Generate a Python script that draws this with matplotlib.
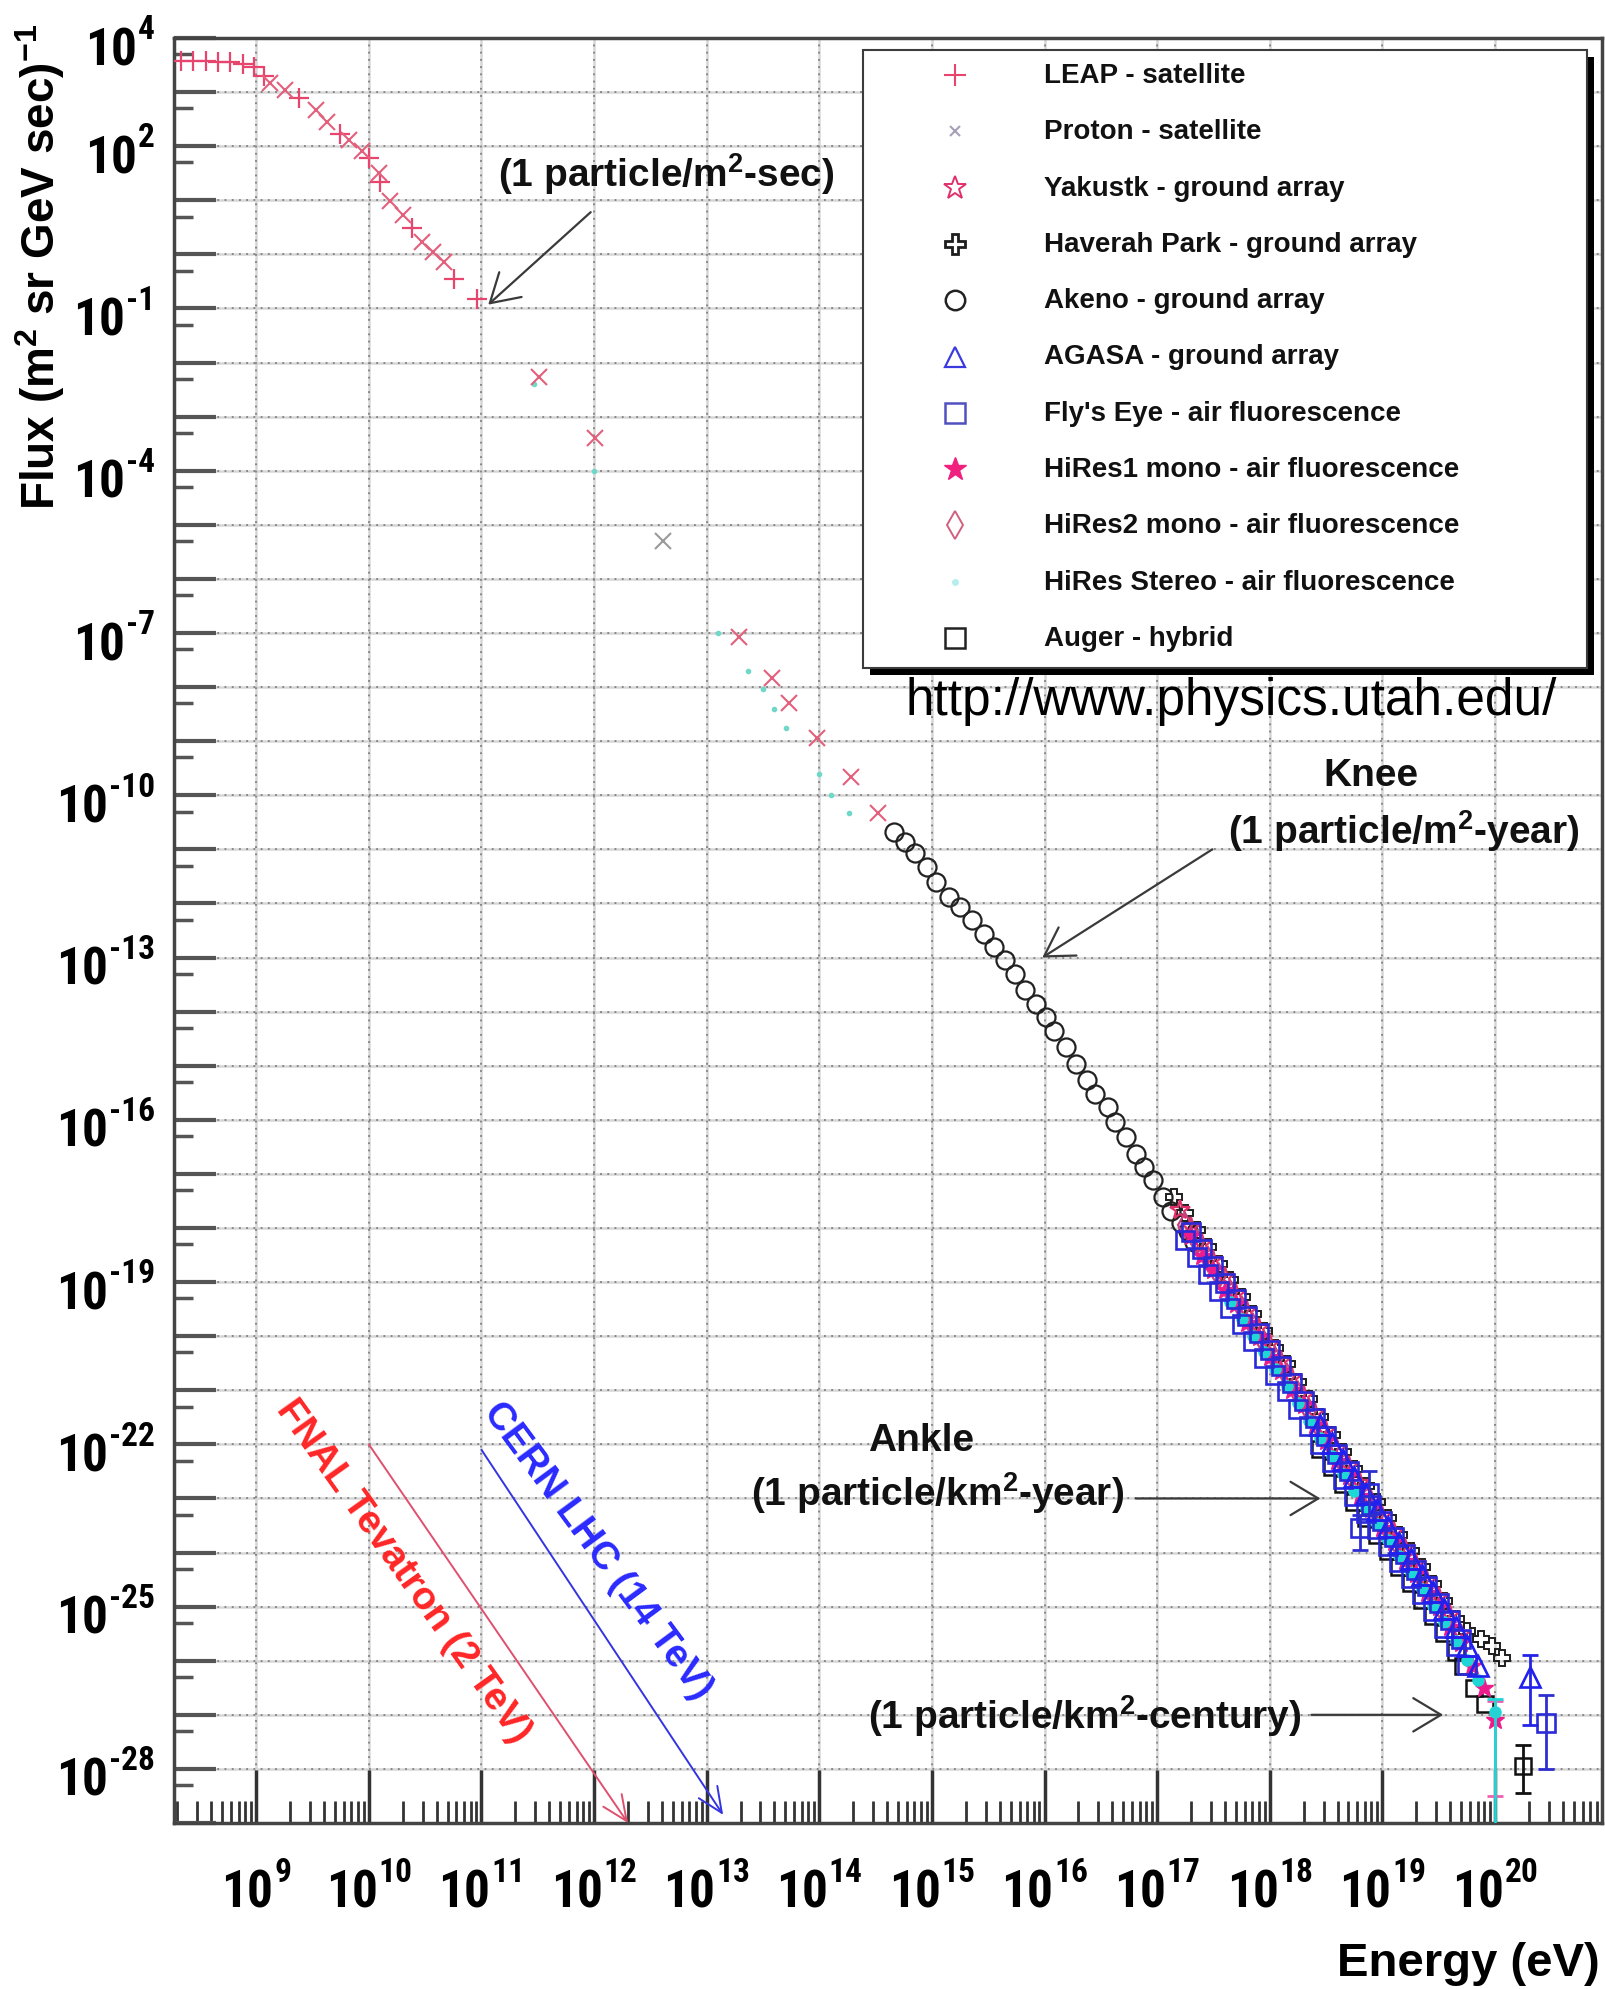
import numpy as np
import matplotlib
matplotlib.use("Agg")
import matplotlib.pyplot as plt
from matplotlib import font_manager
from matplotlib.font_manager import FontProperties
from matplotlib.lines import Line2D
from matplotlib.patches import Rectangle
from matplotlib.textpath import text_to_path
from matplotlib.transforms import offset_copy
from matplotlib.ticker import FixedLocator, NullFormatter

# ================= DATA =================
# every value is log10: energy in eV, flux in (m^2 sr GeV sec)^-1

leap_e = [8.33, 8.44, 8.55, 8.66, 8.77, 8.88, 8.98, 9.07, 9.38, 9.74, 10.0, 10.1, 10.38, 10.76, 10.96]
leap_f = [3.58, 3.58, 3.57, 3.56, 3.55, 3.52, 3.46, 3.30, 2.89, 2.23, 1.79, 1.33, 0.48, -0.45, -0.83]

proton_e = [9.12, 9.26, 9.53, 9.63, 9.82, 9.94, 10.09, 10.19, 10.30, 10.47, 10.57, 10.67,
            11.51, 12.01, 13.29, 13.58, 13.73, 13.98, 14.28, 14.52]
proton_f = [3.17, 3.04, 2.67, 2.45, 2.11, 1.92, 1.51, 0.98, 0.73, 0.23, 0.05, -0.14,
            -2.27, -3.40, -7.07, -7.83, -8.30, -8.95, -9.67, -10.33]
proton_grey_e = [12.61]
proton_grey_f = [-5.30]

direct_e = [11.47, 12.0, 13.1, 13.37, 13.5, 13.6, 13.7, 14.0, 14.1, 14.26]
direct_f = [-2.40, -4.0, -7.0, -7.70, -8.03, -8.40, -8.75, -9.6, -10.0, -10.33]

akeno_e = [14.66, 14.76, 14.85, 14.96, 15.04, 15.15, 15.25, 15.36, 15.46, 15.55, 15.65,
           15.74, 15.83, 15.92, 16.01, 16.08, 16.19, 16.28, 16.38, 16.45, 16.56, 16.63,
           16.72, 16.81, 16.88, 16.96, 17.05, 17.12, 17.21, 17.27, 17.33]
akeno_f = [-10.67, -10.86, -11.07, -11.32, -11.60, -11.88, -12.06, -12.31, -12.56, -12.80, -13.05,
           -13.30, -13.60, -13.85, -14.10, -14.35, -14.65, -14.96, -15.27, -15.52, -15.77, -16.04,
           -16.32, -16.63, -16.88, -17.12, -17.43, -17.68, -17.90, -18.05, -18.25]

yakutsk_e = [17.2, 17.3, 17.4, 17.5, 17.6, 17.7, 17.8, 17.9, 18.0, 18.1, 18.2, 18.3, 18.4,
             18.5, 18.6, 18.7, 18.8, 18.9, 19.0, 19.1, 19.2, 19.3, 19.4, 19.5, 19.6, 19.7]
yakutsk_f = [-17.67, -17.98, -18.29, -18.60, -18.91, -19.22, -19.53, -19.84, -20.15, -20.46, -20.77,
             -21.10, -21.42, -21.75, -22.08, -22.40, -22.72, -23.02, -23.32, -23.62, -23.92, -24.22,
             -24.52, -24.83, -25.15, -25.50]

haverah_e = [17.15, 17.25, 17.35, 17.45, 17.55, 17.65, 17.75, 17.85, 17.95, 18.05, 18.15, 18.25,
             18.35, 18.45, 18.55, 18.65, 18.75, 18.85, 18.95, 19.05, 19.15, 19.25, 19.35, 19.45,
             19.55, 19.65, 19.75, 19.88, 19.97, 20.06]
haverah_f = [-17.42, -17.73, -18.04, -18.35, -18.66, -18.97, -19.28, -19.59, -19.90, -20.21, -20.52,
             -20.84, -21.16, -21.49, -21.82, -22.14, -22.46, -22.77, -23.07, -23.37, -23.67, -23.97,
             -24.27, -24.58, -24.89, -25.23, -25.45, -25.60, -25.72, -25.95]

agasa_e = [18.45, 18.55, 18.65, 18.75, 18.85, 18.95, 19.05, 19.15, 19.25, 19.35, 19.45, 19.55,
           19.65, 19.75, 19.85, 20.31]
agasa_f = [-21.64, -21.97, -22.29, -22.61, -22.92, -23.22, -23.52, -23.82, -24.12, -24.42, -24.73,
           -25.04, -25.38, -25.73, -26.10, -26.30]
agasa_err_e = [20.31]
agasa_err_lo = [-27.19]
agasa_err_hi = [-25.90]

flyseye_e = [17.25, 17.30, 17.35, 17.40, 17.45, 17.50, 17.55, 17.60, 17.65, 17.70, 17.75, 17.80,
             17.85, 17.90, 17.95, 18.00, 18.05, 18.10, 18.15, 18.20, 18.25, 18.30, 18.35, 18.40,
             18.45, 18.50, 18.55, 18.60, 18.65, 18.70, 18.75, 18.80, 18.85, 18.88, 18.90, 18.95,
             19.00, 19.05, 19.10, 19.15, 19.20, 19.25, 19.30, 19.35, 19.40, 19.45, 19.50, 19.55,
             19.60, 19.65, 19.70, 19.75, 20.45]
flyseye_f = [-18.23, -18.08, -18.54, -18.39, -18.85, -18.70, -19.16, -19.01, -19.47, -19.32, -19.78,
             -19.63, -20.09, -19.94, -20.40, -20.25, -20.71, -20.56, -21.02, -20.87, -21.34, -21.20,
             -21.66, -21.52, -21.99, -21.85, -22.32, -22.18, -22.64, -22.50, -22.96, -23.55, -23.27,
             -22.90, -23.12, -23.57, -23.42, -23.87, -23.72, -24.17, -24.02, -24.47, -24.32, -24.77,
             -24.62, -25.08, -24.93, -25.39, -25.25, -25.73, -25.60, -26.08, -27.15]
flyseye_err_e = [18.8, 18.88, 20.45]
flyseye_err_lo = [-23.95, -23.30, -28.00]
flyseye_err_hi = [-23.30, -22.50, -26.63]

hires1_e = [17.3, 17.4, 17.5, 17.6, 17.7, 17.8, 17.9, 18.0, 18.1, 18.2, 18.3, 18.4, 18.5, 18.6,
            18.7, 18.8, 18.9, 19.0, 19.1, 19.2, 19.3, 19.4, 19.5, 19.6, 19.7, 19.8, 19.9, 20.0]
hires1_f = [-18.15, -18.52, -18.78, -19.14, -19.40, -19.76, -20.02, -20.38, -20.64, -21.00, -21.28,
            -21.65, -21.93, -22.31, -22.58, -22.95, -23.20, -23.55, -23.80, -24.15, -24.40, -24.75,
            -25.00, -25.38, -25.68, -26.10, -26.50, -27.10]
hires1_err_e = [20.0]
hires1_err_lo = [-28.50]
hires1_err_hi = [-26.75]

hires2_e = [17.25, 17.35, 17.45, 17.55, 17.65, 17.75, 17.85, 17.95, 18.05, 18.15, 18.25, 18.35,
            18.45, 18.55, 18.65, 18.75, 18.85, 18.95, 19.05, 19.15, 19.25, 19.35, 19.45, 19.55]
hires2_f = [-17.95, -18.26, -18.57, -18.88, -19.19, -19.50, -19.81, -20.12, -20.43, -20.74, -21.06,
            -21.38, -21.71, -22.04, -22.36, -22.68, -22.99, -23.29, -23.59, -23.89, -24.19, -24.49,
            -24.80, -25.11]

stereo_e = [17.65, 17.75, 17.85, 17.95, 18.05, 18.15, 18.25, 18.35, 18.45, 18.55, 18.65, 18.75,
            18.85, 18.95, 19.05, 19.15, 19.25, 19.35, 19.45, 19.55, 19.65, 19.75, 19.85, 20.0]
stereo_f = [-19.37, -19.68, -19.99, -20.30, -20.61, -20.92, -21.24, -21.56, -21.89, -22.22, -22.54,
            -22.86, -23.17, -23.47, -23.77, -24.07, -24.37, -24.67, -24.98, -25.29, -25.63, -25.98,
            -26.35, -26.95]
stereo_err_e = [20.0]
stereo_err_lo = [-31.0]
stereo_err_hi = [-26.70]

auger_e = [18.45, 18.55, 18.65, 18.75, 18.85, 18.95, 19.05, 19.15, 19.25, 19.35, 19.45, 19.55,
           19.65, 19.72, 19.81, 19.91, 20.25]
auger_f = [-22.09, -22.42, -22.74, -23.06, -23.37, -23.67, -23.97, -24.27, -24.57, -24.87, -25.18,
           -25.49, -25.83, -26.10, -26.50, -26.80, -27.94]
auger_err_e = [20.25]
auger_err_lo = [-28.44]
auger_err_hi = [-27.56]

x_tick_exps = list(range(9, 21))
y_tick_exps = [4, 2, -1, -4, -7, -10, -13, -16, -19, -22, -25, -28]

tevatron_energy = 2e12
lhc_energy = 1.4e13

# ================= FONTS =================

def _narrow_bold_file():
    order = ["Liberation Sans Narrow", "Roboto Condensed", "Open Sans Condensed",
             "Noto Sans", "Open Sans", "Roboto", "DejaVu Sans"]
    found = {}
    for f in font_manager.fontManager.ttflist:
        w = f.weight if isinstance(f.weight, (int, float)) else font_manager.weight_dict.get(f.weight, 400)
        low = f.fname.lower()
        if "extra" in low or "ultra" in low or "semi" in low:
            continue
        narrow = ("Narrow" in f.name or "Condensed" in f.name
                  or f.stretch in ("condensed", "semi-condensed"))
        if narrow and f.style == "normal" and w == 700:
            found.setdefault(f.name, f.fname)
    for name in order:
        if name in found:
            return found[name]
    return None


plt.rcParams["font.family"] = ["Liberation Sans", "DejaVu Sans"]
plt.rcParams["mathtext.fontset"] = "custom"
for key in ("rm", "bf", "it", "sf"):
    plt.rcParams["mathtext." + key] = "Liberation Sans:bold"

narrow_file = _narrow_bold_file()
if narrow_file:
    BASE_FP = FontProperties(fname=narrow_file, size=37)
    EXP_FP = FontProperties(fname=narrow_file, size=24)
else:
    BASE_FP = FontProperties(family="Liberation Sans", weight="bold", size=33)
    EXP_FP = FontProperties(family="Liberation Sans", weight="bold", size=21)


def p10(v):
    return np.power(10.0, np.asarray(v, dtype=float))


def _width_pt(s, prop):
    return text_to_path.get_text_width_height_descent(s, prop, ismath=False)[0]


# ================= FIGURE =================
W, H = 1606, 1990
fig = plt.figure(figsize=(W / 100, H / 100), dpi=100)
ax = fig.add_axes([174 / W, 1 - 1824 / H, (1602 - 174) / W, (1824 - 39) / H])
ax.set_xscale("log")
ax.set_yscale("log")
ax.set_xlim(10 ** 8.27, 10 ** 20.95)
ax.set_ylim(1e-29, 1e4)

# grid: faint solid line under a darker dotted one, one per decade
for k in range(9, 21):
    ax.axvline(10.0 ** k, color="#d6d6d6", lw=1.8, zorder=0)
    ax.axvline(10.0 ** k, color="#7f7f7f", lw=1.3, ls=(0, (1, 3)), zorder=0.5)
for k in range(-28, 4):
    ax.axhline(10.0 ** k, color="#d6d6d6", lw=1.8, zorder=0)
    ax.axhline(10.0 ** k, color="#7f7f7f", lw=1.3, ls=(0, (1, 3)), zorder=0.5)

for side in ax.spines.values():
    side.set_color("#444444")
    side.set_linewidth(2.5)

ax.xaxis.set_major_locator(FixedLocator([10.0 ** k for k in x_tick_exps]))
ax.xaxis.set_minor_locator(FixedLocator([m * 10.0 ** k for k in range(8, 21) for m in range(2, 10)]))
ax.yaxis.set_major_locator(FixedLocator([10.0 ** k for k in range(-29, 5)]))
ax.yaxis.set_minor_locator(FixedLocator([5 * 10.0 ** k for k in range(-29, 4)]))
for axis in (ax.xaxis, ax.yaxis):
    axis.set_minor_formatter(NullFormatter())

ax.tick_params(axis="x", which="major", direction="in", length=38, width=2.5, color="#333333",
               top=False, labelbottom=False)
ax.tick_params(axis="x", which="minor", direction="in", length=16, width=2, color="#333333", top=False)
ax.tick_params(axis="y", which="major", direction="in", length=30, width=3, color="#555555",
               right=False, labelleft=False)
ax.tick_params(axis="y", which="minor", direction="in", length=14, width=2.5, color="#555555", right=False)

# decade labels drawn as "10" plus a raised exponent
gap = 0.5
base_w = _width_pt("10", BASE_FP)
cap = 0.716 * BASE_FP.get_size_in_points()


def decade_label(x, y, k, trans, x0, base_dy):
    exp_s = str(k)
    total = base_w + gap + _width_pt(exp_s, EXP_FP)
    left = x0(total)
    ax.text(x, y, "10", fontproperties=BASE_FP, ha="left", va="baseline", clip_on=False,
            transform=offset_copy(trans, fig=fig, x=left, y=base_dy, units="points"))
    ax.text(x, y, exp_s, fontproperties=EXP_FP, ha="left", va="baseline", clip_on=False,
            transform=offset_copy(trans, fig=fig, x=left + base_w + gap, y=base_dy + 0.7 * cap,
                                  units="points"))


for k in x_tick_exps:
    decade_label(10.0 ** k, 0, k, ax.get_xaxis_transform(), lambda t: -t / 2, -60)
for k in y_tick_exps:
    decade_label(0, 10.0 ** k, k, ax.get_yaxis_transform(), lambda t: -14 - t, -cap / 2 - 5.5)

# ================= SERIES =================
open_kw = dict(ls="none", mfc="none")

ax.plot(p10(direct_e), p10(direct_f), ls="none", marker="o", ms=3, color="#6fd8c8", zorder=2)
ax.plot(p10(leap_e), p10(leap_f), ls="none", marker="+", ms=15, mew=1.6, color="#e8456e", zorder=3)
ax.plot(p10(proton_e), p10(proton_f), ls="none", marker="x", ms=11, mew=1.5, color="#e3607c", zorder=3)
ax.plot(p10(proton_grey_e), p10(proton_grey_f), ls="none", marker="x", ms=11, mew=1.5, color="#9a9a9a", zorder=3)
ax.plot(p10(akeno_e), p10(akeno_f), marker="o", ms=13, mew=1.6, color="#222222", zorder=3, **open_kw)
ax.plot(p10(haverah_e), p10(haverah_f), marker="P", ms=12, mew=1.4, color="#1e1e1e", zorder=3, **open_kw)
ax.plot(p10(yakutsk_e), p10(yakutsk_f), marker="*", ms=15, mew=1.6, color="#e0306a", zorder=3, **open_kw)
ax.plot(p10(hires2_e), p10(hires2_f), marker="d", ms=12, mew=1.6, color="#c8407e", zorder=3, **open_kw)
ax.plot(p10(auger_e), p10(auger_f), marker="s", ms=12, mew=1.8, color="#111111", zorder=3, **open_kw)
ax.plot(p10(hires1_e), p10(hires1_f), ls="none", marker="*", ms=14, color="#ec1c8c", zorder=3)
ax.plot(p10(stereo_e), p10(stereo_f), ls="none", marker="o", ms=8, color="#1fd6d6", zorder=3)
ax.plot(p10(flyseye_e), p10(flyseye_f), marker="s", ms=13, mew=1.9, color="#2a2ad8", zorder=3, **open_kw)
ax.plot(p10(agasa_e), p10(agasa_f), marker="^", ms=14, mew=1.9, color="#2020f0", zorder=3, **open_kw)


def bars(e, lo, hi, color):
    x = p10(e)
    yl, yh = p10(lo), p10(hi)
    mid = np.sqrt(yl * yh)
    ax.errorbar(x, mid, yerr=[mid - yl, yh - mid], fmt="none", ecolor=color, elinewidth=2,
                capsize=6, capthick=2, zorder=3)


bars(agasa_err_e, agasa_err_lo, agasa_err_hi, "#2424e6")
bars(flyseye_err_e, flyseye_err_lo, flyseye_err_hi, "#2e2ed0")
bars(hires1_err_e, hires1_err_lo, hires1_err_hi, "#f060b0")
bars(stereo_err_e, stereo_err_lo, stereo_err_hi, "#1fd6d6")
bars(auger_err_e, auger_err_lo, auger_err_hi, "#111111")

# ================= ANNOTATIONS =================
txt = dict(fontsize=28, fontweight="bold", color="#111111", ha="center", va="center")
arrow = dict(arrowstyle="->,head_length=1.0,head_width=0.6", color="#3a3a3a", lw=1.6,
             shrinkA=0, shrinkB=0, mutation_scale=20)

ax.text(10 ** 12.64, 10 ** 1.51, r"(1 particle/m$^{2}$-sec)", **txt)
ax.annotate("", xy=(10 ** 11.06, 10 ** -0.93), xytext=(10 ** 11.97, 10 ** 0.78), arrowprops=arrow)

ax.text(10 ** 18.90, 10 ** -9.62, "Knee", **txt)
ax.text(10 ** 19.19, 10 ** -10.65, r"(1 particle/m$^{2}$-year)", **txt)
ax.annotate("", xy=(10 ** 15.98, 10 ** -13.0), xytext=(10 ** 17.49, 10 ** -11.0), arrowprops=arrow)

ax.text(10 ** 14.90, 10 ** -21.92, "Ankle", **txt)
ax.text(10 ** 15.05, 10 ** -22.88, r"(1 particle/km$^{2}$-year)", **txt)
ax.annotate("", xy=(10 ** 18.45, 10 ** -23.0), xytext=(10 ** 16.81, 10 ** -23.0), arrowprops=arrow)

ax.text(10 ** 16.36, 10 ** -27.0, r"(1 particle/km$^{2}$-century)", **txt)
ax.annotate("", xy=(10 ** 19.54, 10 ** -27.0), xytext=(10 ** 18.37, 10 ** -27.0), arrowprops=arrow)

# collider reach
ax.annotate("", xy=(tevatron_energy, 1e-29), xytext=(1e10, 1e-22), annotation_clip=False,
            arrowprops=dict(arrowstyle="->,head_length=0.9,head_width=0.4", color="#e0506e", lw=1.4,
                            shrinkA=0, shrinkB=0, mutation_scale=20))
ax.annotate("", xy=(lhc_energy, 10 ** -28.85), xytext=(1e11, 10 ** -22.1),
            arrowprops=dict(arrowstyle="->,head_length=0.9,head_width=0.4", color="#3434e0", lw=1.4,
                            shrinkA=0, shrinkB=0, mutation_scale=20))
ax.text(10 ** 10.31, 10 ** -24.33, "FNAL Tevatron (2 TeV)", fontsize=28, fontweight="bold",
        color="#ff2626", rotation=-54.5, rotation_mode="anchor", ha="center", va="center")
ax.text(10 ** 12.03, 10 ** -23.96, "CERN LHC (14 TeV)", fontsize=28, fontweight="bold",
        color="#2a2aff", rotation=-53.5, rotation_mode="anchor", ha="center", va="center")

# axis titles
fig.text(40 / W, 1 - 267 / H, r"Flux (m$^{2}$ sr GeV sec)$^{-1}$", rotation=90, fontsize=33,
         fontweight="bold", ha="center", va="center")
fig.text(1600 / W, 1 - 1964 / H, "Energy (eV)", fontsize=34, fontweight="bold", ha="right", va="center")

fig.text(1231 / W, 1 - 702 / H, "http://www.physics.utah.edu/", fontsize=37, ha="center", va="center",
         color="black", zorder=7)

# ================= LEGEND =================
box_l, box_r, box_t, box_b = 863, 1587, 51, 669
fig.add_artist(Rectangle(((box_l + 7) / W, 1 - (box_b + 7) / H), (box_r - box_l) / W, (box_b - box_t) / H,
                         transform=fig.transFigure, fc="black", ec="none", zorder=5))
fig.add_artist(Rectangle((box_l / W, 1 - box_b / H), (box_r - box_l) / W, (box_b - box_t) / H,
                         transform=fig.transFigure, fc="white", ec="#3c3c3c", lw=1.5, zorder=5.5))

legend_rows = [
    ("LEAP - satellite", dict(marker="+", ms=16, mew=1.5, color="#e8456e")),
    ("Proton - satellite", dict(marker="x", ms=7, mew=1.5, color="#a8a0b8")),
    ("Yakustk - ground array", dict(marker="*", ms=17, mew=1.4, color="#e0306a", mfc="none")),
    ("Haverah Park - ground array", dict(marker="P", ms=15, mew=2, color="#1e1e1e", mfc="none")),
    ("Akeno - ground array", dict(marker="o", ms=14, mew=1.8, color="#222222", mfc="none")),
    ("AGASA - ground array", dict(marker="^", ms=15, mew=1.6, color="#3a3ae0", mfc="none")),
    ("Fly's Eye - air fluorescence", dict(marker="s", ms=15, mew=1.8, color="#5050c0", mfc="none")),
    ("HiRes1 mono - air fluorescence", dict(marker="*", ms=17, color="#f0207e")),
    ("HiRes2 mono - air fluorescence", dict(marker="d", ms=14, mew=1.4, color="#d06080", mfc="none")),
    ("HiRes Stereo - air fluorescence", dict(marker="o", ms=4, color="#b6eeee")),
    ("Auger - hybrid", dict(marker="s", ms=15, mew=1.8, color="#222222", mfc="none")),
]
for i, (label, style) in enumerate(legend_rows):
    y = 1 - (76 + 56.3 * i) / H
    fig.add_artist(Line2D([955 / W], [y], transform=fig.transFigure, ls="none", zorder=6, **style))
    fig.text(1044 / W, y, label, fontsize=20, fontweight="bold", color="#111111",
             ha="left", va="center", zorder=6)

fig.savefig("out.png", dpi=100)
plt.close(fig)
